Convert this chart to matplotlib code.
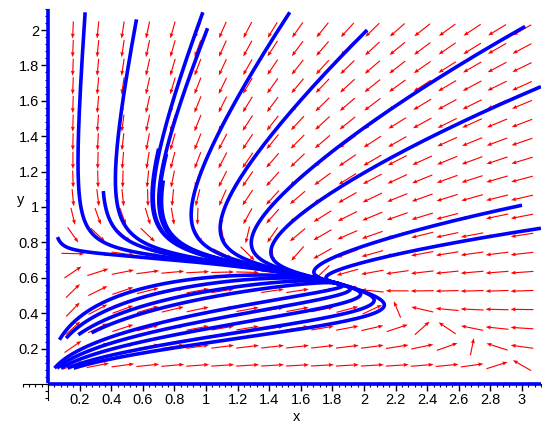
import numpy as np
import matplotlib
matplotlib.use('Agg')
import matplotlib.pyplot as plt
from matplotlib.ticker import MultipleLocator

# competition system, fitted to the nullclines seen in the field
K_X = 3.2      # x-nullcline hits y = 0
A_XY = 0.75    # effect of y on x
K_Y = 0.75     # y-nullcline hits x = 0
A_YX = 0.1     # effect of x on y
R_Y = 0.7      # rate of y relative to x

# view window and arrow grid
x_view = [-0.16, 3.12]
y_view = [-0.09, 2.12]
grid_x = np.linspace(0, 3, 20)
grid_y = np.linspace(0, 2, 20)

# curves run forward from these points
start_x = [0.0, 0.0, 0.005, 0.235, 0.56, 0.98, 1.01, 1.53, 2.02, 3.02, 3.12, 3.0, 3.12,
           0.70, 0.75, 0.73, 0.35, 0.06]
start_y = [2.12, 0.005, 0.0, 2.1, 2.06, 2.1, 2.01, 2.1, 2.0, 2.02, 1.68, 1.01, 0.88,
           1.33, 1.30, 1.15, 1.09, 0.83]

# curves coming out of the lower left: where they cross x = 0.6,
# and the height at which each one starts on the left
through_x = 0.6
through_y = [0.54, 0.49, 0.44, 0.40, 0.32, 0.28, 0.24, 0.20, 0.175]
through_start_y = [0.25, 0.26, 0.28, 0.29, 0.09, 0.09, 0.09, 0.09, 0.09]

x_ticks = [0.2, 0.4, 0.6, 0.8, 1, 1.2, 1.4, 1.6, 1.8, 2, 2.2, 2.4, 2.6, 2.8, 3]
y_ticks = [0.2, 0.4, 0.6, 0.8, 1, 1.2, 1.4, 1.6, 1.8, 2]


def field(x, y):
    dx = x * (1 - x / K_X - A_XY * y)
    dy = R_Y * y * (K_Y - y - A_YX * x)
    return dx, dy


def trajectory(x0, y0, h, n, xstop=-1.0, ystop=-1.0):
    pts = [(x0, y0)]
    x, y = x0, y0
    for _ in range(n):
        k1 = field(x, y)
        k2 = field(x + h / 2 * k1[0], y + h / 2 * k1[1])
        k3 = field(x + h / 2 * k2[0], y + h / 2 * k2[1])
        k4 = field(x + h * k3[0], y + h * k3[1])
        x += h / 6 * (k1[0] + 2 * k2[0] + 2 * k3[0] + k4[0])
        y += h / 6 * (k1[1] + 2 * k2[1] + 2 * k3[1] + k4[1])
        pts.append((x, y))
        if x < xstop or y < ystop or x > x_view[1] or y > y_view[1] or y < 0:
            break
    return np.array(pts)


plt.rcParams['font.family'] = ['Liberation Sans', 'DejaVu Sans']
fig = plt.figure(figsize=(5.42, 4.26), dpi=100)
W, H = 542, 426
px_x = 158.0
px_y = 177.0
left = (48 - (0 - x_view[0]) * px_x) / W
bottom = (H - 384 - (0 - y_view[0]) * px_y) / H
ax = fig.add_axes([left, bottom, (x_view[1] - x_view[0]) * px_x / W,
                   (y_view[1] - y_view[0]) * px_y / H])

# direction field, each arrow scaled to fit its grid cell
GX, GY = np.meshgrid(grid_x, grid_y)
U, V = field(GX, GY)
cw = grid_x[1] - grid_x[0]
ch = grid_y[1] - grid_y[0]
us, vs = U / cw, V / ch
norm = np.hypot(us, vs)
mask = norm > 0
norm[~mask] = 1
U2 = us / norm * cw * 0.92
V2 = vs / norm * ch * 0.92
ax.quiver(GX[mask], GY[mask], U2[mask], V2[mask], color='#ff0000',
          angles='xy', scale_units='xy', scale=1, pivot='middle',
          width=0.0022, headwidth=3.5, headlength=4.5, headaxislength=4, zorder=2)

# solution curves
for x0, y0 in zip(start_x, start_y):
    p = trajectory(x0, y0, 0.02, 1500)
    ax.plot(p[:, 0], p[:, 1], color='#0000ff', lw=2.6, zorder=3, solid_capstyle='butt')

for y0, ys in zip(through_y, through_start_y):
    fw = trajectory(through_x, y0, 0.02, 1500)
    bw = trajectory(through_x, y0, -0.02, 1500, xstop=0.02, ystop=ys)
    p = np.vstack([bw[::-1], fw])
    ax.plot(p[:, 0], p[:, 1], color='#0000ff', lw=2.6, zorder=3, solid_capstyle='butt')

ax.set_xlim(x_view)
ax.set_ylim(y_view)
ax.patch.set_visible(False)
for s in ['top', 'right']:
    ax.spines[s].set_visible(False)
ax.spines['left'].set_position('zero')
ax.spines['bottom'].set_position('zero')
ax.spines['left'].set_zorder(1)
ax.spines['bottom'].set_zorder(1)

ax.set_xticks(x_ticks)
ax.set_xticklabels([f'{v:g}' for v in x_ticks])
ax.set_yticks(y_ticks)
ax.set_yticklabels([f'{v:g}' for v in y_ticks])
ax.xaxis.set_minor_locator(MultipleLocator(0.04))
ax.yaxis.set_minor_locator(MultipleLocator(0.04))
ax.tick_params(which='major', direction='out', length=5, width=1, labelsize=10.5, pad=1.5)
ax.tick_params(which='minor', direction='out', length=2.5, width=0.8)

fig.text(297 / W, 1 - 417 / H, 'x', ha='center', va='center', fontsize=10.5)
fig.text(21 / W, 1 - 200 / H, 'y', ha='center', va='center', fontsize=10.5)

fig.savefig('out.png', dpi=100)
plt.close(fig)
